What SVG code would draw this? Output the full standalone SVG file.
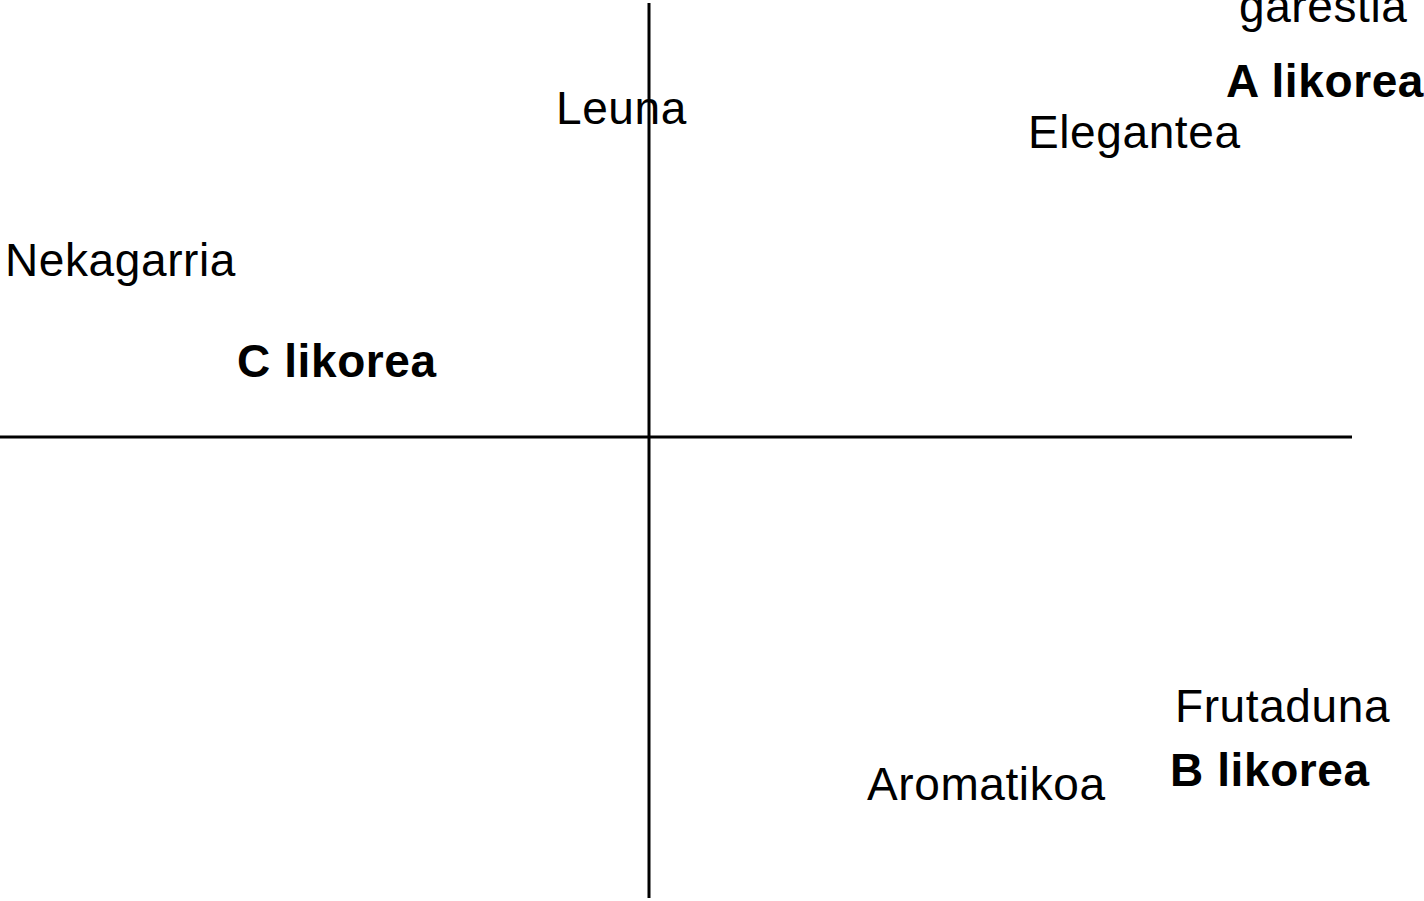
<svg xmlns="http://www.w3.org/2000/svg" width="1424" height="901" viewBox="0 0 1424 901">
<style>
.t{font-family:"Liberation Sans",Arial,sans-serif;font-size:46px;fill:#000;letter-spacing:0.6px}
.b{font-weight:bold}
.ax{stroke:#000;stroke-width:3;fill:none}
</style>
<rect width="1424" height="901" fill="#fff"/>
<g id="connectors">
<line class="ax" x1="649" y1="3" x2="649" y2="898"/>
<line class="ax" x1="0" y1="437" x2="1352" y2="437"/>
</g>
<g id="garestia"><text class="t" x="1239" y="22">garestia</text></g>
<g id="a-likorea"><text class="t b" x="1226" y="97">A likorea</text></g>
<g id="elegantea"><text class="t" x="1028" y="148">Elegantea</text></g>
<g id="leuna"><text class="t" x="556" y="124">Leuna</text></g>
<g id="nekagarria"><text class="t" x="5" y="276">Nekagarria</text></g>
<g id="c-likorea"><text class="t b" x="237" y="377">C likorea</text></g>
<g id="frutaduna"><text class="t" x="1175" y="722">Frutaduna</text></g>
<g id="b-likorea"><text class="t b" x="1170" y="786">B likorea</text></g>
<g id="aromatikoa"><text class="t" x="867" y="800">Aromatikoa</text></g>
</svg>
